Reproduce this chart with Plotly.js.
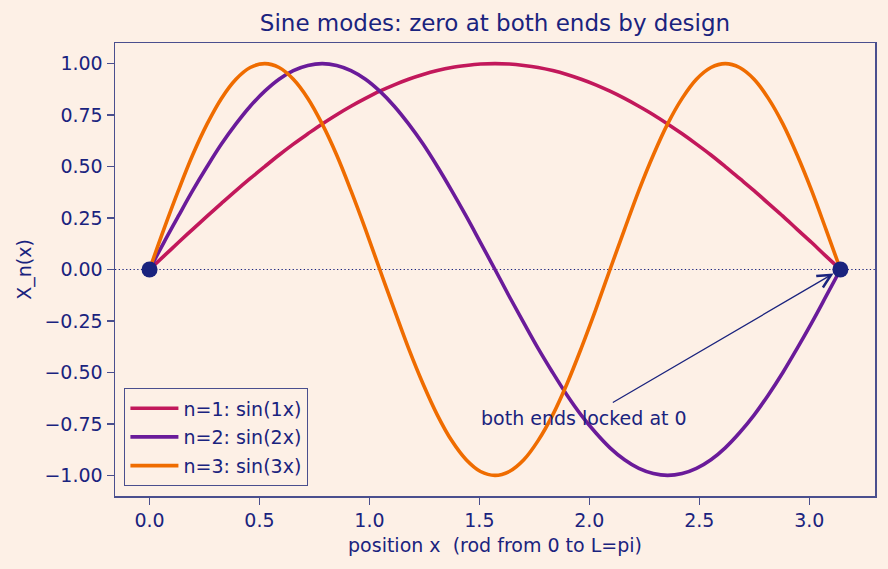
<!DOCTYPE html>
<html>
<head>
<meta charset="utf-8">
<script src="https://cdn.plot.ly/plotly-3.0.1.min.js"></script>
<style>
  html, body { margin: 0; padding: 0; background: #fdf0e6; }
  #chart { width: 888px; height: 569px; }
</style>
</head>
<body>
<div id="chart"></div>
<script>
// Sample positions along the rod, 0 .. pi
const positions = [0, 0.065, 0.131, 0.196, 0.262, 0.327, 0.393, 0.458, 0.524, 0.589, 0.654, 0.720,
  0.785, 0.851, 0.916, 0.982, 1.047, 1.113, 1.178, 1.244, 1.309, 1.374, 1.440, 1.505,
  1.571, 1.636, 1.702, 1.767, 1.833, 1.898, 1.963, 2.029, 2.094, 2.160, 2.225, 2.291,
  2.356, 2.422, 2.487, 2.553, 2.618, 2.683, 2.749, 2.814, 2.880, 2.945, 3.011, 3.076, 3.142];

// Mode shapes X_n(x)
const mode1 = [0, 0.065, 0.131, 0.195, 0.259, 0.321, 0.383, 0.442, 0.500, 0.556, 0.609, 0.659,
  0.707, 0.752, 0.793, 0.831, 0.866, 0.897, 0.924, 0.947, 0.966, 0.981, 0.991, 0.998,
  1.000, 0.998, 0.991, 0.981, 0.966, 0.947, 0.924, 0.897, 0.866, 0.831, 0.793, 0.752,
  0.707, 0.659, 0.609, 0.556, 0.500, 0.442, 0.383, 0.321, 0.259, 0.195, 0.131, 0.065, 0];
const mode2 = [0, 0.131, 0.259, 0.383, 0.500, 0.609, 0.707, 0.793, 0.866, 0.924, 0.966, 0.991,
  1.000, 0.991, 0.966, 0.924, 0.866, 0.793, 0.707, 0.609, 0.500, 0.383, 0.259, 0.131,
  0, -0.131, -0.259, -0.383, -0.500, -0.609, -0.707, -0.793, -0.866, -0.924, -0.966, -0.991,
  -1.000, -0.991, -0.966, -0.924, -0.866, -0.793, -0.707, -0.609, -0.500, -0.383, -0.259, -0.131, 0];
const mode3 = [0, 0.195, 0.383, 0.556, 0.707, 0.831, 0.924, 0.981, 1.000, 0.981, 0.924, 0.831,
  0.707, 0.556, 0.383, 0.195, 0, -0.195, -0.383, -0.556, -0.707, -0.831, -0.924, -0.981,
  -1.000, -0.981, -0.924, -0.831, -0.707, -0.556, -0.383, -0.195, 0, 0.195, 0.383, 0.556,
  0.707, 0.831, 0.924, 0.981, 1.000, 0.981, 0.924, 0.831, 0.707, 0.556, 0.383, 0.195, 0];

const modeNames = ['n=1: sin(1x)', 'n=2: sin(2x)', 'n=3: sin(3x)'];

// Fixed ends of the rod
const endX = [0, 3.1416];
const endY = [0, 0];

// Annotation: label anchor and arrow tail
const noteText = 'both ends locked at 0';
const noteX = 1.5, noteY = -0.75;
const arrowTailX = 2.1, arrowTailY = -0.65;

const navy = '#1a237e';
const frame = '#4a4f8e';
const bg = '#fdf0e6';
const colors = ['#c2185b', '#6a1b9a', '#ef6c00'];
const font = 'DejaVu Sans, sans-serif';

const modes = [mode1, mode2, mode3];
const traces = modes.map((ys, i) => ({
  type: 'scatter',
  mode: 'lines',
  x: positions,
  y: ys,
  name: modeNames[i],
  legendgroup: 'g' + i,
  line: { color: colors[i], width: 3.6, shape: 'spline', smoothing: 1 }
}));

traces.push({
  type: 'scatter',
  mode: 'markers',
  x: endX,
  y: endY,
  showlegend: false,
  marker: { color: navy, size: 16 },
  hoverinfo: 'skip'
});

const layout = {
  width: 888,
  height: 569,
  paper_bgcolor: bg,
  plot_bgcolor: bg,
  margin: { l: 115, r: 13, t: 43, b: 73 },
  font: { family: font, size: 19, color: navy },
  title: {
    text: 'Sine modes: zero at both ends by design',
    font: { family: font, size: 23, color: navy },
    x: 0.5, xref: 'paper', xanchor: 'center',
    y: 1 - 23 / 569, yref: 'container', yanchor: 'middle'
  },
  xaxis: {
    range: [-0.157, 3.299],
    tick0: 0, dtick: 0.5, tickformat: '.1f',
    ticks: 'outside', ticklen: 7, tickwidth: 1.2, tickcolor: frame,
    showline: true, linecolor: frame, linewidth: 1.5, mirror: true,
    showgrid: false, zeroline: false,
    tickfont: { family: font, size: 19, color: navy },
    title: { text: 'position x\u00a0\u00a0(rod from 0 to L=pi)', standoff: 8,
             font: { family: font, size: 19, color: navy } }
  },
  yaxis: {
    range: [-1.1, 1.1],
    tick0: 0, dtick: 0.25, tickformat: '.2f',
    ticks: 'outside', ticklen: 7, tickwidth: 1.2, tickcolor: frame,
    showline: true, linecolor: frame, linewidth: 1.5, mirror: true,
    showgrid: false, zeroline: false,
    tickfont: { family: font, size: 19, color: navy },
    title: { text: 'X_n(x)', standoff: 8,
             font: { family: font, size: 19, color: navy } }
  },
  showlegend: true,
  legend: {
    x: 0.012, y: 0.022, xanchor: 'left', yanchor: 'bottom',
    bgcolor: bg, bordercolor: frame, borderwidth: 1.3,
    traceorder: 'grouped', tracegroupgap: 1,
    itemwidth: 48,
    font: { family: font, size: 19, color: navy }
  },
  shapes: [{
    type: 'line', xref: 'paper', yref: 'y',
    x0: 0, x1: 1, y0: 0, y1: 0,
    line: { color: navy, width: 1.2, dash: '1.3px,2.4px' },
    layer: 'below'
  }],
  annotations: [
    {
      x: noteX, y: noteY, xref: 'x', yref: 'y',
      text: noteText, showarrow: false,
      xanchor: 'left', yanchor: 'middle', yshift: 6,
      font: { family: font, size: 19, color: navy }
    },
    {
      x: endX[1], y: endY[1], xref: 'x', yref: 'y',
      ax: arrowTailX, ay: arrowTailY, axref: 'x', ayref: 'y',
      text: '', showarrow: true,
      arrowhead: 5, arrowsize: 2, arrowwidth: 1.3, arrowcolor: navy,
      standoff: 8
    }
  ]
};

Plotly.newPlot('chart', traces, layout, { displayModeBar: false, staticPlot: true });
</script>
</body>
</html>
